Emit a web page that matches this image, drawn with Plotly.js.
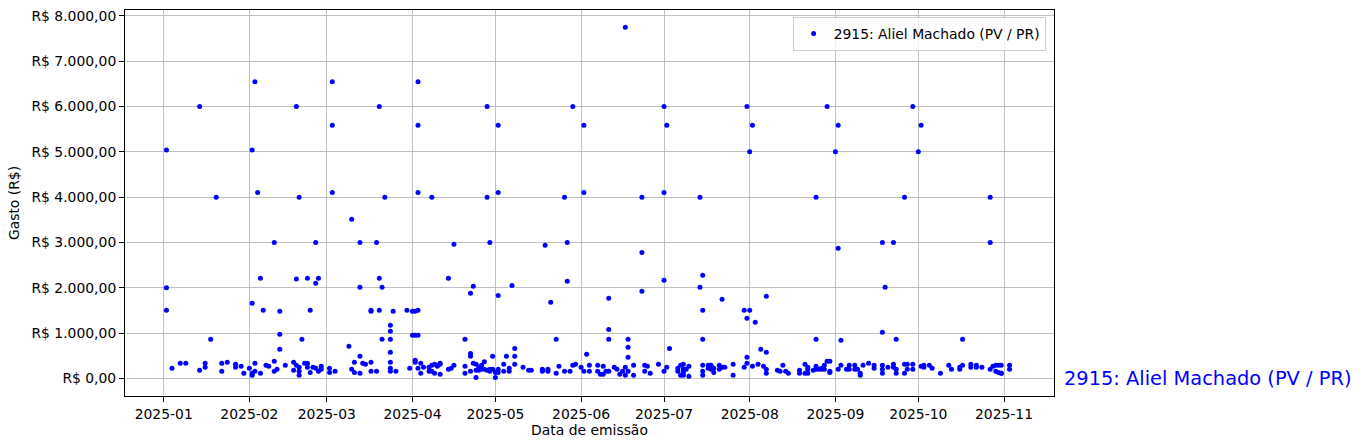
<!DOCTYPE html>
<html>
<head>
<meta charset="utf-8">
<script src="https://cdn.plot.ly/plotly-3.0.1.min.js"></script>
<style>
  html, body { margin: 0; padding: 0; background: #ffffff; }
  #chart { width: 1360px; height: 448px; }
</style>
</head>
<body>
<div id="chart"></div>
<script>
// ---- Data ----
const seriesName = "2915: Aliel Machado (PV / PR)";
const year = 2025;

const janDays = [2,2,2,4,7,9,14,14,16,16,18,20,22,22,24,27,27,29,30];
const janValues = [5040,2000,1500,220,330,330,6000,180,330,245,860,4000,330,155,355,245,310,265,110];

const febDays = [1,2,2,2,2,3,3,3,4,5,5,6,7,8,10,10,10,11,12,12,12,14,17,17,18,18,18,19,19,19,19,20,21,22,22,22,23,23,24,25,25,25,26,26,27,27];
const febValues = [220,5040,1655,110,65,6550,155,330,4100,2210,110,1500,290,265,3000,375,155,200,1480,970,640,290,355,175,6000,2190,290,4000,155,65,245,860,330,2210,330,245,1500,130,245,2100,3000,220,2210,155,265,200];

const marDays = [2,2,3,3,3,4,9,10,10,11,11,13,13,13,13,14,15,17,17,17,17,19,19,20,20,20,21,21,22,24,24,24,24,24,24,24,25,26,30,31];
const marValues = [130,220,6550,5590,4100,155,710,200,3510,355,130,2010,110,3000,485,330,310,1500,1480,355,155,3000,155,6000,2210,1500,2010,860,4000,1170,1040,860,575,355,220,155,1480,155,1500,220];

const aprDays = [1,1,2,2,2,2,3,3,3,3,3,3,4,4,5,7,7,8,8,8,9,9,10,10,11,11,11,14,14,15,16,16,20,20,20,22,22,22,22,23,23,24,24,24,25,25,26,26,27,27,28,28,28,29,29,29,30,30];
const aprValues = [1480,950,1480,950,400,355,6550,5590,4100,1500,950,220,110,330,245,155,245,4000,155,290,310,110,290,265,310,330,90,2210,200,220,2960,290,860,265,110,550,485,1880,155,2030,330,310,175,20,245,175,290,200,365,200,6000,4000,175,3000,200,155,485,200];

const mayDays = [1,1,2,2,2,2,2,4,4,5,6,6,7,8,8,8,11,13,14,18,18,19,20,20,21,23,23,24,26,26,27,27,28,29,29,30];
const mayValues = [130,20,5590,4100,1830,200,130,310,155,485,220,155,2050,485,660,310,245,175,175,200,155,2940,200,155,1680,860,110,265,4000,155,3000,2140,155,6000,290,310];

const junDays = [1,2,2,2,3,4,4,7,7,8,9,9,10,11,11,11,11,13,14,15,16,17,17,17,18,18,18,18,20,20,23,23,23,24,24,25,26,29];
const junValues = [245,5590,4100,155,530,290,155,290,155,90,265,90,155,1770,1080,860,155,245,200,90,155,7750,245,65,860,685,465,155,290,65,4000,2780,1920,290,155,265,110,310];

const julDays = [1,1,1,1,2,2,3,6,6,7,7,8,8,8,8,9,10,10,14,14,15,15,15,15,15,15,17,17,18,18,19,19,21,21,22,22,23,26,26,30,30,31,31,31,31];
const julValues = [6000,4100,2165,155,5590,245,660,220,155,65,290,65,310,200,130,200,265,45,4000,2010,2275,1500,860,290,155,65,290,220,200,290,130,220,290,200,1745,245,245,310,65,1500,245,6000,1325,465,330];

const augDays = [1,1,2,2,3,4,5,6,7,7,7,7,11,12,13,14,15,19,19,21,21,22,22,22,24,25,25,25,25,26,27,27,28,28,29,29,30,30,30];
const augValues = [5000,1500,5590,265,1235,310,640,265,1810,575,200,110,175,155,290,155,110,175,110,310,110,245,200,110,175,4000,860,265,200,200,200,220,290,200,6000,375,375,130,155];

const sepDays = [1,2,2,2,3,3,5,6,6,8,8,9,10,10,11,13,15,15,18,18,18,18,18,19,20,22,22,22,23,23,23,26,26,26,27,27,29,29,29];
const sepValues = [5000,5590,2870,200,840,290,200,290,200,290,200,200,65,110,290,330,290,220,3000,1015,290,200,110,2010,245,3000,310,245,860,200,110,4000,310,110,200,310,6000,310,200];

const octDays = [1,2,2,3,3,5,6,9,12,13,16,16,17,17,20,20,22,22,24,27,27,27,28,29,29,30,30,31,31,31];
const octValues = [5000,5590,265,245,290,290,220,110,290,200,200,245,860,290,310,245,290,245,245,4000,3000,200,265,290,155,290,130,110,110,290];

const novDays = [3,3];
const novValues = [290,200];

const yTickValues = [0,1000,2000,3000,4000,5000,6000,7000,8000];
const yTickLabels = ["R$ 0,00","R$ 1.000,00","R$ 2.000,00","R$ 3.000,00","R$ 4.000,00","R$ 5.000,00","R$ 6.000,00","R$ 7.000,00","R$ 8.000,00"];

// ---- Build series ----
const months = [
  [1, janDays, janValues], [2, febDays, febValues], [3, marDays, marValues],
  [4, aprDays, aprValues], [5, mayDays, mayValues], [6, junDays, junValues],
  [7, julDays, julValues], [8, augDays, augValues], [9, sepDays, sepValues],
  [10, octDays, octValues], [11, novDays, novValues]
];
const pad = n => String(n).padStart(2, "0");
const xs = [], ys = [];
months.forEach(([m, days, vals]) => {
  days.forEach((d, i) => {
    xs.push(`${year}-${pad(m)}-${pad(d)}`);
    ys.push(vals[i]);
  });
});

const FONT = "DejaVu Sans, Liberation Sans, sans-serif";

const trace = {
  type: "scatter",
  mode: "markers",
  x: xs,
  y: ys,
  name: seriesName,
  marker: { color: "#0000ff", size: 5, line: { width: 0 } },
  showlegend: true
};

const layout = {
  width: 1360,
  height: 448,
  margin: { l: 125, r: 306, t: 10, b: 52, pad: 0 },
  paper_bgcolor: "#ffffff",
  plot_bgcolor: "#ffffff",
  font: { family: FONT, size: 13.9, color: "#000000" },
  showlegend: true,
  legend: {
    x: 0.991, y: 0.982, xanchor: "right", yanchor: "top",
    bgcolor: "rgba(255,255,255,0.8)",
    bordercolor: "#cccccc", borderwidth: 1,
    font: { family: FONT, size: 13.9, color: "#000000" }
  },
  xaxis: {
    type: "date",
    range: ["2024-12-18", "2025-11-19 02:00"],
    tickformat: "%Y-%m",
    dtick: "M1",
    tick0: "2025-01-01",
    ticks: "outside",
    ticklen: 5,
    tickwidth: 1,
    tickcolor: "#000000",
    showline: true,
    linecolor: "#000000",
    linewidth: 1,
    mirror: true,
    showgrid: true,
    gridcolor: "#b0b0b0",
    gridwidth: 0.8,
    zeroline: false,
    automargin: false,
    tickfont: { family: FONT, size: 13.9, color: "#000000" },
    title: { text: "Data de emissão", font: { family: FONT, size: 13.9, color: "#000000" }, standoff: 4 }
  },
  yaxis: {
    range: [-391, 8132],
    tickvals: yTickValues,
    ticktext: yTickLabels,
    ticks: "outside",
    ticklen: 5,
    tickwidth: 1,
    tickcolor: "#000000",
    showline: true,
    linecolor: "#000000",
    linewidth: 1,
    mirror: true,
    showgrid: true,
    gridcolor: "#b0b0b0",
    gridwidth: 0.8,
    zeroline: false,
    automargin: false,
    tickfont: { family: FONT, size: 13.9, color: "#000000" },
    title: { text: "Gasto (R$)", font: { family: FONT, size: 13.9, color: "#000000" }, standoff: 8 }
  },
  annotations: [{
    xref: "paper", yref: "y",
    x: 1.0086, y: 0,
    xanchor: "left", yanchor: "middle",
    text: seriesName,
    showarrow: false,
    font: { family: FONT, size: 19.4, color: "#0000ff" }
  }]
};

Plotly.newPlot("chart", [trace], layout, { displayModeBar: false, staticPlot: true });
</script>
</body>
</html>
